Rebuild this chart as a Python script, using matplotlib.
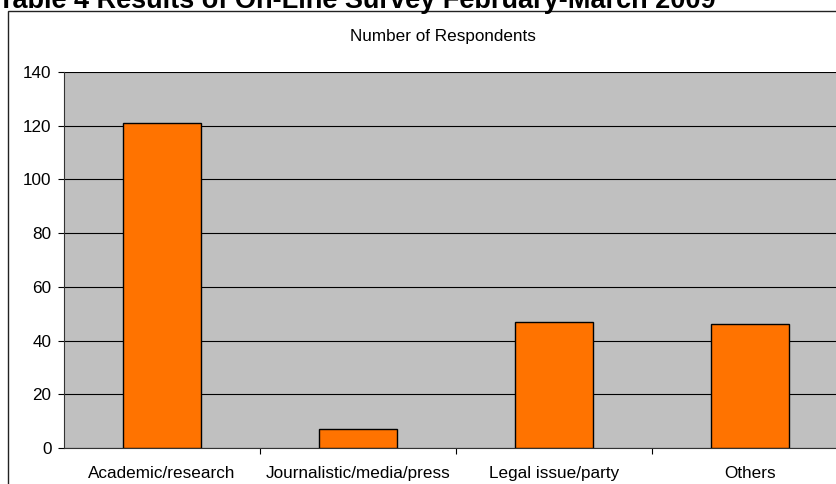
import matplotlib.pyplot as plt
from matplotlib.patches import Rectangle

categorias = ['Academic/research', 'Journalistic/media/press', 'Legal issue/party', 'Others']
respostas = [121, 7, 47, 46]
yticks = [0, 20, 40, 60, 80, 100, 120, 140]

plt.rcParams['font.family'] = ['Liberation Sans', 'DejaVu Sans']

W, H = 836, 484
fig = plt.figure(figsize=(W / 100, H / 100), dpi=100)
fig.patch.set_facecolor('white')

# moldura do grafico (a direita e embaixo saem da figura)
moldura = Rectangle((8 / W, -0.05), 1.0, 1 - 11 / H + 0.05, transform=fig.transFigure,
                    facecolor='white', edgecolor='#222222', linewidth=1.0, zorder=-5)
fig.patches.append(moldura)

# titulo cortado em cima, como no original
fig.text(-0.002, 1 - 8 / H, 'Table 4 Results of On-Line Survey February-March 2009',
         fontsize=19.5, fontweight='bold', ha='left', va='baseline', zorder=5)

ax = fig.add_axes([64 / W, 1 - 448 / H, 784 / W, (448 - 72) / H], zorder=2)
ax.set_facecolor('#c0c0c0')

x = range(len(categorias))
ax.bar(x, respostas, width=0.4, color='#ff7300', edgecolor='black', linewidth=1.0, zorder=3)

ax.set_xlim(-0.5, len(categorias) - 0.5)
ax.set_ylim(0, 140)
ax.set_yticks(yticks)
ax.yaxis.grid(True, color='black', linewidth=0.8, zorder=1)
ax.set_axisbelow(True)

ax.set_xticks([i + 0.5 for i in range(len(categorias) - 1)])
ax.set_xticklabels([])
ax.tick_params(axis='x', direction='out', length=4, width=0.8)
for i, nome in enumerate(categorias):
    ax.text(i, -6.6, nome, ha='center', va='top', fontsize=12.3)

ax.tick_params(axis='y', direction='out', length=4, width=0.8, labelsize=12.3, pad=5)

for s in ['top', 'right']:
    ax.spines[s].set_visible(False)
ax.spines['left'].set_color('#333333')
ax.spines['bottom'].set_color('#333333')

ax.set_title('Number of Respondents', fontsize=12.3, pad=22.5, x=(443 - 64) / 784)

fig.savefig('out.png', dpi=100)
